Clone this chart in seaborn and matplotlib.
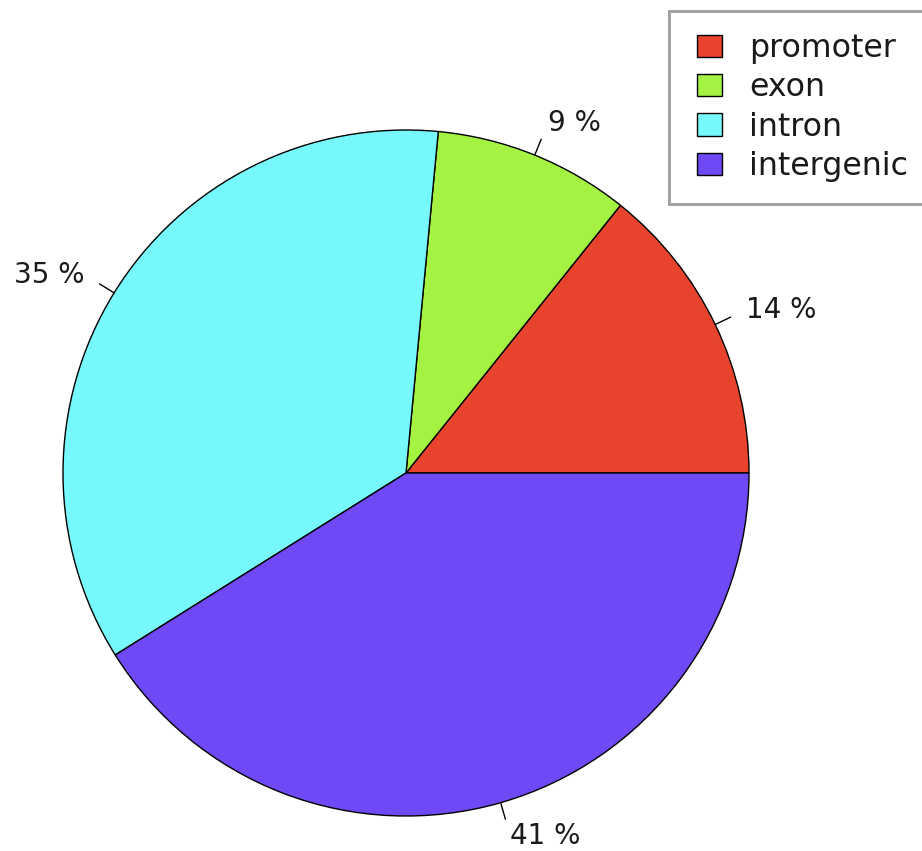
import numpy as np
import matplotlib
matplotlib.use("Agg")
import matplotlib.pyplot as plt
from matplotlib.patches import Rectangle
from matplotlib.legend_handler import HandlerPatch
import seaborn as sns

# Share of peaks by genomic feature (percent)
categories = ["promoter", "exon", "intron", "intergenic"]
shares = [14.25, 9.25, 35.4, 41.1]
pct_labels = ["14 %", "9 %", "35 %", "41 %"]
colors = ["#E8432C", "#A4F241", "#76F8FC", "#6F49F6"]

sns.set_style("white")
plt.rcParams["font.family"] = ["DejaVu Sans"]

W, H = 922, 851
fig = plt.figure(figsize=(W / 100, H / 100), dpi=100)

cx, cy, r = 406, 473, 343
ax = fig.add_axes([(cx - r) / W, (H - cy - r) / H, 2 * r / W, 2 * r / H])
wedges, _ = ax.pie(
    shares, colors=colors, startangle=0, counterclock=True, radius=1.0,
    wedgeprops=dict(edgecolor="black", linewidth=1.0),
)
ax.set_xlim(-1, 1)
ax.set_ylim(-1, 1)
ax.set_aspect("equal")
ax.axis("off")

# outside tick marks and percentage labels at each slice's mid-angle
for w, lab in zip(wedges, pct_labels):
    ang = np.deg2rad((w.theta1 + w.theta2) / 2)
    c, s = np.cos(ang), np.sin(ang)
    ax.plot([c, 1.05 * c], [s, 1.05 * s], color="black", lw=1.0, clip_on=False)
    ax.text(1.1 * c, 1.1 * s, lab, ha="left" if c > 0 else "right",
            va="center", fontsize=20, color="#1a1a1a", clip_on=False)


def square_key(legend, orig_handle, xdescent, ydescent, width, height, fontsize):
    # small filled square, nudged right inside its handle slot
    side = 18.0
    return Rectangle((-xdescent + width - side, -ydescent), side, height)


leg = fig.legend(
    wedges, categories, loc="upper left",
    bbox_to_anchor=(669 / W, 1 - 11 / H), bbox_transform=fig.transFigure,
    fontsize=22.8, frameon=True, fancybox=False, labelspacing=0.26,
    handlelength=0.98, handleheight=0.7, handletextpad=0.85,
    borderpad=0.7, borderaxespad=0.0,
    handler_map={type(wedges[0]): HandlerPatch(patch_func=square_key)},
)
leg.get_frame().set_edgecolor("#8c8c8c")
leg.get_frame().set_linewidth(2.2)
for t in leg.get_texts():
    t.set_color("#1a1a1a")

fig.savefig("out.png", dpi=100, facecolor="white")
